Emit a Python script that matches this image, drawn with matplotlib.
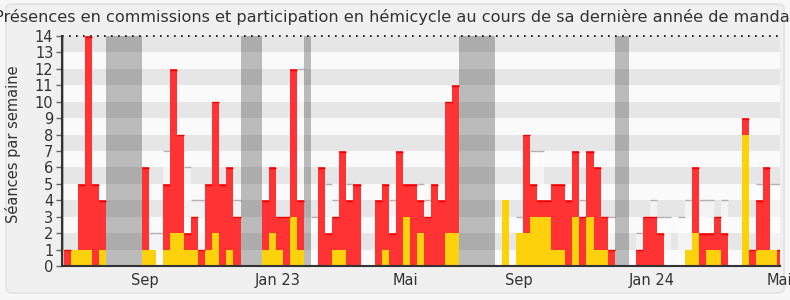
import matplotlib
matplotlib.use("Agg")
import matplotlib.pyplot as plt
from matplotlib.patches import FancyBboxPatch
import numpy as np

title = "Présences en commissions et participation en hémicycle au cours de sa dernière année de mandat"
ylabel = "Séances par semaine"

# weekly values (week index from start of the period)
total = [1, 1, 5, 14, 5, 4, 0, 0, 0, 0,
         0, 6, 1, 0, 5, 12, 8, 2, 3, 1,
         5, 10, 5, 6, 3, 0, 0, 0, 4, 6,
         3, 3, 12, 4, 0, 0, 6, 2, 3, 7,
         4, 5, 0, 0, 4, 5, 2, 7, 5, 5,
         4, 3, 5, 4, 10, 11, 0, 0, 0, 0,
         0, 0, 4, 0, 2, 8, 5, 4, 4, 5,
         5, 4, 7, 3, 7, 6, 3, 1, 0, 0,
         0, 1, 3, 3, 2, 0, 0, 0, 1, 6,
         2, 2, 3, 2, 0, 0, 9, 1, 4, 6,
         1, 1]
hemicycle = [0, 1, 1, 1, 0, 1, 0, 0, 0, 0,
             0, 1, 1, 0, 1, 2, 2, 1, 1, 0,
             1, 2, 0, 1, 0, 0, 0, 0, 1, 2,
             1, 0, 3, 1, 0, 0, 0, 0, 1, 1,
             0, 0, 0, 0, 0, 1, 0, 0, 3, 0,
             2, 0, 0, 0, 2, 2, 0, 0, 0, 0,
             0, 0, 4, 0, 2, 2, 3, 3, 3, 1,
             1, 0, 3, 0, 3, 1, 1, 0, 0, 0,
             0, 0, 0, 0, 0, 0, 0, 0, 1, 2,
             0, 1, 1, 0, 0, 0, 8, 0, 1, 1,
             1, 0]
median = [0, 0, 0, 0, 0, 0, 0, 0, 0, 0,
          0, 0, 2, 2, 7, 0, 7, 6, 4, 4,
          0, 0, 0, 4, 4, 0, 0, 0, 0, 0,
          0, 0, 0, 12, 0, 3, 0, 5, 4, 0,
          5, 0, 0, 0, 0, 0, 4, 0, 0, 0,
          5, 4, 0, 0, 0, 0, 0, 0, 0, 0,
          0, 0, 0, 0, 3, 0, 7, 7, 0, 0,
          0, 0, 0, 4, 0, 0, 0, 3, 0, 0,
          0, 2, 0, 4, 3, 3, 0, 3, 4, 0,
          4, 4, 0, 4, 0, 0, 0, 0, 5, 5,
          5, 5]
vacation_weeks = [-1, 6, 7, 8, 9, 10, 25, 26, 27, 34, 56, 57, 58, 59, 60, 78, 79]
xtick_pos = [11.5, 30.3, 48.4, 64.4, 83.3, 101.3]
xtick_labels = ["Sep", "Jan 23", "Mai", "Sep", "Jan 24", "Mai"]

weeks = np.arange(len(total))
total_a = np.array(total, float)
hemi_a = np.array(hemicycle, float)
med_a = np.array(median, float)
comm_a = total_a - hemi_a

W, H = 790, 300
fig = plt.figure(figsize=(W / 100, H / 100), dpi=100)
fig.patch.set_facecolor("#f7f7f7")
fig.patches.append(FancyBboxPatch((6 / W, 7 / H), 778 / W, 289 / H,
                                  boxstyle="round,pad=0,rounding_size=0.012",
                                  transform=fig.transFigure, facecolor="#f0f0f0",
                                  edgecolor="#e2e2e2", linewidth=1.2, zorder=-10))

ax = fig.add_axes([61.7 / W, 1 - 266 / H, (780.3 - 61.7) / W, (266 - 36) / H])
ax.set_facecolor("#fafafa")
ax.set_xlim(-0.33, 101.46)
ax.set_ylim(0, 14)

for k in range(14):
    ax.axhspan(k, k + 1, color="#e6e6e6" if k % 2 == 1 else "#fafafa", zorder=0, lw=0)

# median (light fill + grey top line)
mask = med_a > 0
ax.bar(weeks[mask], med_a[mask], width=1, align="edge", color="white", alpha=0.55,
       lw=0, zorder=1)
ax.hlines(med_a[mask], weeks[mask], weeks[mask] + 1, colors="#b0b0b0", lw=1.0, zorder=1.5)

# bars
ax.bar(weeks, hemi_a, width=1, align="edge", color="#fdd20c", lw=0, zorder=2)
ax.bar(weeks, comm_a, bottom=hemi_a, width=1, align="edge", color="#ff3333", lw=0, zorder=2)
rm = comm_a > 0
ax.hlines(total_a[rm] - 0.04, weeks[rm], weeks[rm] + 1, colors="#ee0000", lw=1.0, zorder=2.5)

# vacation bands
for v in vacation_weeks:
    ax.axvspan(v, v + 1, color="black", alpha=0.25, lw=0, zorder=3)

ax.axhline(14, color="black", lw=1.2, ls=(0, (1, 3.2)), zorder=4, clip_on=False)

for s in ["top", "right"]:
    ax.spines[s].set_visible(False)
ax.spines["left"].set_color("#333333")
ax.spines["left"].set_linewidth(1.5)
ax.spines["bottom"].set_color("#333333")
ax.spines["bottom"].set_linewidth(1.5)
ax.spines["left"].set_zorder(5)
ax.spines["bottom"].set_zorder(5)

ax.set_yticks(range(15))
ax.tick_params(axis="y", length=4, width=1, color="#666666", labelsize=10.5,
               labelcolor="#333333", pad=2)
ax.set_xticks(xtick_pos)
ax.set_xticklabels(xtick_labels)
ax.tick_params(axis="x", length=0, labelsize=10.5, labelcolor="#333333", pad=5)

fig.text(0.5, 1 - 17 / H, title, ha="center", va="center", fontsize=11.65, color="#333333")
fig.text(13 / W, 0.52, ylabel, ha="center", va="center", rotation=90, fontsize=10.5,
         color="#333333")

fig.savefig("out.png", dpi=100, facecolor=fig.get_facecolor())
